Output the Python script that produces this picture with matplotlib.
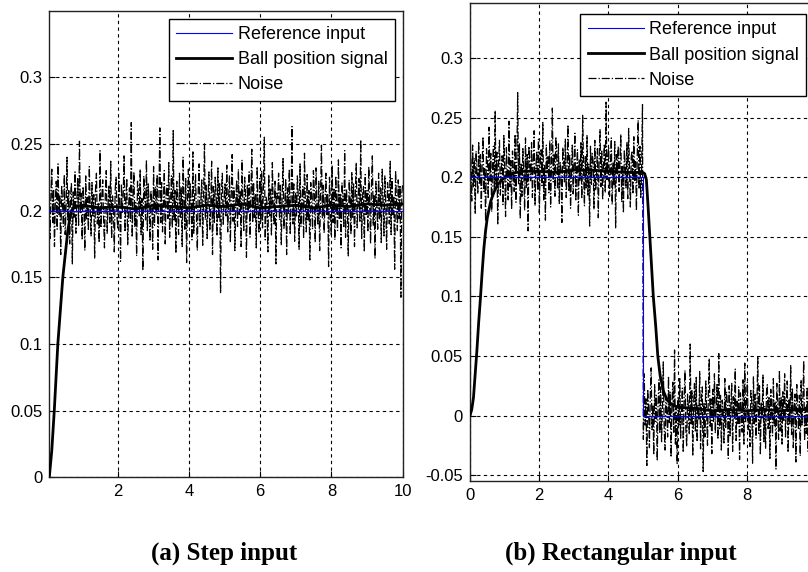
import numpy as np
import matplotlib
matplotlib.use('Agg')
import matplotlib.pyplot as plt

plt.rcParams['font.family'] = ['Liberation Sans', 'DejaVu Sans']

# reference inputs
ref_a_t = [0, 10]
ref_a_v = [0.2, 0.2]
ref_b_t = [0, 5, 5, 10]
ref_b_v = [0.2, 0.2, 0.0, 0.0]
step_b_hi, step_b_lo, step_b_time = 0.2, 0.0, 5

# ball position
ball_a_t = [0.08, 0.15, 0.22, 0.27, 0.32, 0.39, 0.46, 0.54, 0.6, 0.68, 0.75, 0.85,
            1.0, 1.5, 2.0, 2.5, 3.0, 3.5, 4.0, 4.5, 5.0, 5.5, 6.0, 6.5, 7.0, 7.5,
            8.0, 8.5, 9.0, 9.5, 10.0]
ball_a_v = [0, 0.02, 0.05, 0.075, 0.1, 0.125, 0.15, 0.17, 0.185, 0.198, 0.202, 0.203,
            0.204, 0.202, 0.203, 0.201, 0.204, 0.203, 0.202, 0.204, 0.203, 0.205, 0.202,
            0.203, 0.204, 0.202, 0.204, 0.203, 0.205, 0.204, 0.205]

ball_b_t = [0, 0.05, 0.1, 0.15, 0.2, 0.25, 0.3, 0.35, 0.4, 0.45, 0.5, 0.6, 0.7, 0.8,
            1.0, 1.2, 1.5, 2.0, 2.5, 3.0, 3.5, 4.0, 4.5, 5.0, 5.05, 5.1, 5.15, 5.2,
            5.25, 5.3, 5.37, 5.43, 5.5, 5.6, 5.7, 5.8, 6.0, 6.5, 7.0, 7.5, 8.0, 8.5,
            9.0, 9.5, 10.0]
ball_b_v = [0, 0.005, 0.015, 0.035, 0.055, 0.078, 0.098, 0.12, 0.14, 0.155, 0.166, 0.18,
            0.188, 0.194, 0.2, 0.203, 0.205, 0.205, 0.204, 0.206, 0.206, 0.205, 0.204,
            0.204, 0.203, 0.198, 0.175, 0.15, 0.125, 0.1, 0.075, 0.05, 0.033, 0.02,
            0.013, 0.01, 0.007, 0.006, 0.004, 0.005, 0.004, 0.005, 0.004, 0.005, 0.005]

# measured noise offsets around the reference, in units of 0.001
noise_a = [18, -6, 25, 4, -21, 12, 31, -9, 16, -27, 8, 22, -14, 35, -3, 11, -33, 19, 6, -12,
           27, -18, 3, 40, -8, 15, -25, 9, 21, -40, 14, -5, 29, -17, 7, 24, -11, 52, -2, 13,
           -22, 18, 5, -30, 26, -7, 10, -15, 33, 2, -19, 21, -4, 12, -36, 17, 28, -10, 6, -24,
           45, -13, 9, 23, -6, -28, 14, 30, -17, 4, 19, -9, 37, -21, 11, 2, -31, 16, 25, -5,
           -14, 28, 7, -38, 20, -2, 13, 41, -16, 8, 24, -26, 3, 17, -8, 66, -20, 11, 29, -12,
           6, -34, 22, 14, -4, 31, -18, 9, -45, 26, 12, -7, 38, -15, 20, 5, -23, 15, 8, -29,
           33, -11, 18, -3, 27, -37, 10, 62, -9, 21, -16, 4, 30, -25, 13, 19, -6, 36, -20, 7,
           26, -13, 60, -8, 15, -32, 22, 2, -18, 28, -5, 17, -27, 40, 9, -14, 24, -39, 12, 31,
           -10, 20, 6, -22, 44, -17, 11, 27, -4, -30, 16, 35, -12, 8, 23, -26, 14, 50, -7, 19,
           -21, 10, 29, -15, 5, 37, -33, 18, -9, 25, 13, -19, 32, -6, 21, -62, 15, 28, -11, 9,
           20, -4, 34, -16, 9, 26, -24, 13, 42, -8, 17, -30, 5, 23, -12, 31, -3, 15, -27, 38,
           7, -15, 25, 11, -35, 19, -2, 29, -20, 14, 46, -9, 21, -6, 12, -28, 33, 3, -17, 24,
           -8, 30, -13, 18, 55, -22, 10, 6, -31, 27, -4, 16, -19, 36, 2, -11, 22, -40, 14, 9,
           28, -7, 19, -26, 12, 39, -14, 5, 24, -33, 17, -2, 31, -18, 8, 63, -10, 20, -23, 13,
           -5, 26, 11, -29, 35, -12, 7, 18, -21, 43, 4, -16, 27, -8, 15, -37, 21, 10, -14, 30,
           16, -24, 32, 3, -11, 22, -30, 14, 49, -6, 19, -17, 8, 28, -3, 12, -42, 25, 6, -19,
           34, -9, 17, -22, 26, 1, -15, 38, -7, 13, -28, 21, 9, -12, 45, -20, 16, 4, -34, 23,
           11, -18, 29, -5, 20, -27, 14, 36, -13, 7, 24, -8, 53, -21, 10, 18, -31, 27, -4, 15,
           -16, 33, 6, -25, 19, 41, -11, 12, -36, 22, 3, -14, 28, -7, 17, -24, 31, 8, -19, 26,
           5, -29, 21, 14, -10, 37, -18, 24, -3, 11, -44, 30, 7, -15, 23, -6, 19, -65, 13, 20]

noise_b = [38, 12, -20, 27, -8, 16, -31, 22, 5, -14, 30, -5, 19, -26, 11, 34, -12, 8, -37, 24,
           15, -18, 42, -3, 20, -29, 9, 26, -10, 56, -7, 21, -40, 13, 31, -15, 6, 18, -23, 35,
           10, -33, 25, 2, -19, 47, -8, 14, -27, 22, 7, -12, 36, -21, 17, 71, -6, 28, -35, 12,
           -16, 24, 4, -28, 33, -9, 19, -45, 26, 11, -3, 29, -17, 15, 39, -24, 8, 21, -11, 32,
           -30, 14, 23, -7, 46, -19, 10, -36, 27, 5, 18, -13, 31, -25, 9, 58, -4, 20, -16, 34,
           21, -10, 28, -22, 13, 6, -38, 25, 16, -5, 32, -17, 9, 44, -12, 19, -26, 3, 27, -14,
           12, 37, -20, 8, 23, -32, 15, -3, 29, -18, 52, 6, -24, 18, -9, 35, -15, 11, -41, 26,
           -6, 20, 14, -27, 31, -11, 4, 24, -34, 17, 40, -8, 22, -19, 10, 28, -13, 63, -2, 16,
           25, -16, 7, 33, -23, 12, -7, 30, -43, 19, 2, 26, -12, 15, 36, -21, 9, -30, 23, 11,
           -9, 29, -18, 41, 5, -25, 17, 22, -14, 34, -4, 13, -28, 20, 48, -10, 26, -17, 7, 61,
           -20, 35, -8, 14, -42, 22, 6, -27, 18, 40, -12, 9, -33, 26, -5, 17, -38, 11, 30, -15,
           24, -22, 7, 45, -10, -29, 16, 3, -18, 33, -6, 20, -35, 12, 28, -14, 55, -24, 8, -41,
           15, -9, 31, -19, 4, 23, -31, 13, 38, -11, -26, 18, 6, -16, 60, -7, 21, -34, 10, 27,
           -13, 32, -22, 9, -4, 37, -28, 15, 24, -47, 11, -18, 29, 2, -25, 19, 48, -9, 14, -32,
           22, -6, 35, -15, 7, 26, -20, 52, -11, 17, -29, 13, 4, -23, 31, -10, 20, 8, -36, 25,
           -17, 10, 27, -30, 16, -3, 39, -21, 12, -8, 24, -37, 19, 5, -14, 30, -24, 44, -6, 13,
           28, -12, 3, -26, 21, 14, -40, 33, -7, 18, -19, 9, 50, -15, 25, -33, 11, -2, 34, -22,
           8, -28, 19, 26, -11, 15, -36, 22, 4, -17, 31, -9, 12, -45, 27, 6, -20, 38, -13, 16,
           -24, 20, -5, 35, -18, 11, 29, -31, 14, -7, 42, -16, 23, -27, 9, 18, -39, 26, 3, -12,
           17, -34, 30, -8, 13, 46, -21, 7, -15, 24, -30, 19, 10, -25, 36, -4, 15, -43, 21, 6]

t_noise = np.linspace(0, 10, len(noise_a))
noise_a_y = ref_a_v[0] + np.array(noise_a) / 1000.0
noise_b_y = np.where(t_noise < step_b_time, step_b_hi, step_b_lo) + np.array(noise_b) / 1000.0

yticks_a = [0, 0.05, 0.1, 0.15, 0.2, 0.25, 0.3]
yticks_b = [-0.05, 0, 0.05, 0.1, 0.15, 0.2, 0.25, 0.3]
ytick_labels_a = ['0', '0.05', '0.1', '0.15', '0.2', '0.25', '0.3']
ytick_labels_b = ['-0.05', '0', '0.05', '0.1', '0.15', '0.2', '0.25', '0.3']

fig = plt.figure(figsize=(8.08, 5.72), dpi=100)
ax1 = fig.add_axes([0.061, 0.1656, 0.4374, 0.816])
ax2 = fig.add_axes([0.5817, 0.159, 0.428, 0.8363])


def style(ax):
    ax.grid(True, color='black', linestyle=(0, (3, 3)), linewidth=0.8)
    ax.tick_params(direction='in', length=4, labelsize=12, pad=5)
    for s in ax.spines.values():
        s.set_linewidth(1.0)
        s.set_color('#222222')


# panel (a)
ax1.plot(t_noise, noise_a_y, color='black', linestyle='-.', linewidth=0.9, label='Noise', zorder=2)
ax1.plot(ball_a_t, ball_a_v, color='black', linewidth=2, label='Ball position signal', zorder=3)
ax1.plot(ref_a_t, ref_a_v, color='blue', linewidth=0.8, label='Reference input', zorder=4)
ax1.set_xlim(0.08, 10)
ax1.set_ylim(0, 0.35)
ax1.set_xticks([2, 4, 6, 8, 10])
ax1.set_yticks(yticks_a)
ax1.set_yticklabels(ytick_labels_a)
style(ax1)

# panel (b)
ax2.plot(t_noise, noise_b_y, color='black', linestyle='-.', linewidth=0.9, label='Noise', zorder=2)
ax2.plot(ball_b_t, ball_b_v, color='black', linewidth=2, label='Ball position signal', zorder=3)
ax2.plot(ref_b_t, ref_b_v, color='blue', linewidth=0.8, label='Reference input', zorder=4)
ax2.set_xlim(0, 10)
ax2.set_ylim(-0.055, 0.3465)
ax2.set_xticks([0, 2, 4, 6, 8])
ax2.set_yticks(yticks_b)
ax2.set_yticklabels(ytick_labels_b)
style(ax2)

for ax, anchor in [(ax1, (0.978, 0.982)), (ax2, (0.9717, 0.976))]:
    h, l = ax.get_legend_handles_labels()
    order = [2, 1, 0]
    leg = ax.legend([h[i] for i in order], [l[i] for i in order], loc='upper right',
                    bbox_to_anchor=anchor, fontsize=13, fancybox=False, framealpha=1,
                    edgecolor='black', handlelength=3.1, handletextpad=0.3,
                    labelspacing=0.45, borderpad=0.4, borderaxespad=0)
    leg.get_frame().set_linewidth(1.0)

fig.text(0.278, 0.033, '(a) Step input', fontsize=18, fontweight='bold',
         family='Liberation Serif', ha='center', va='center')
fig.text(0.768, 0.033, '(b) Rectangular input', fontsize=18, fontweight='bold',
         family='Liberation Serif', ha='center', va='center')

plt.savefig('out.png', dpi=100)
